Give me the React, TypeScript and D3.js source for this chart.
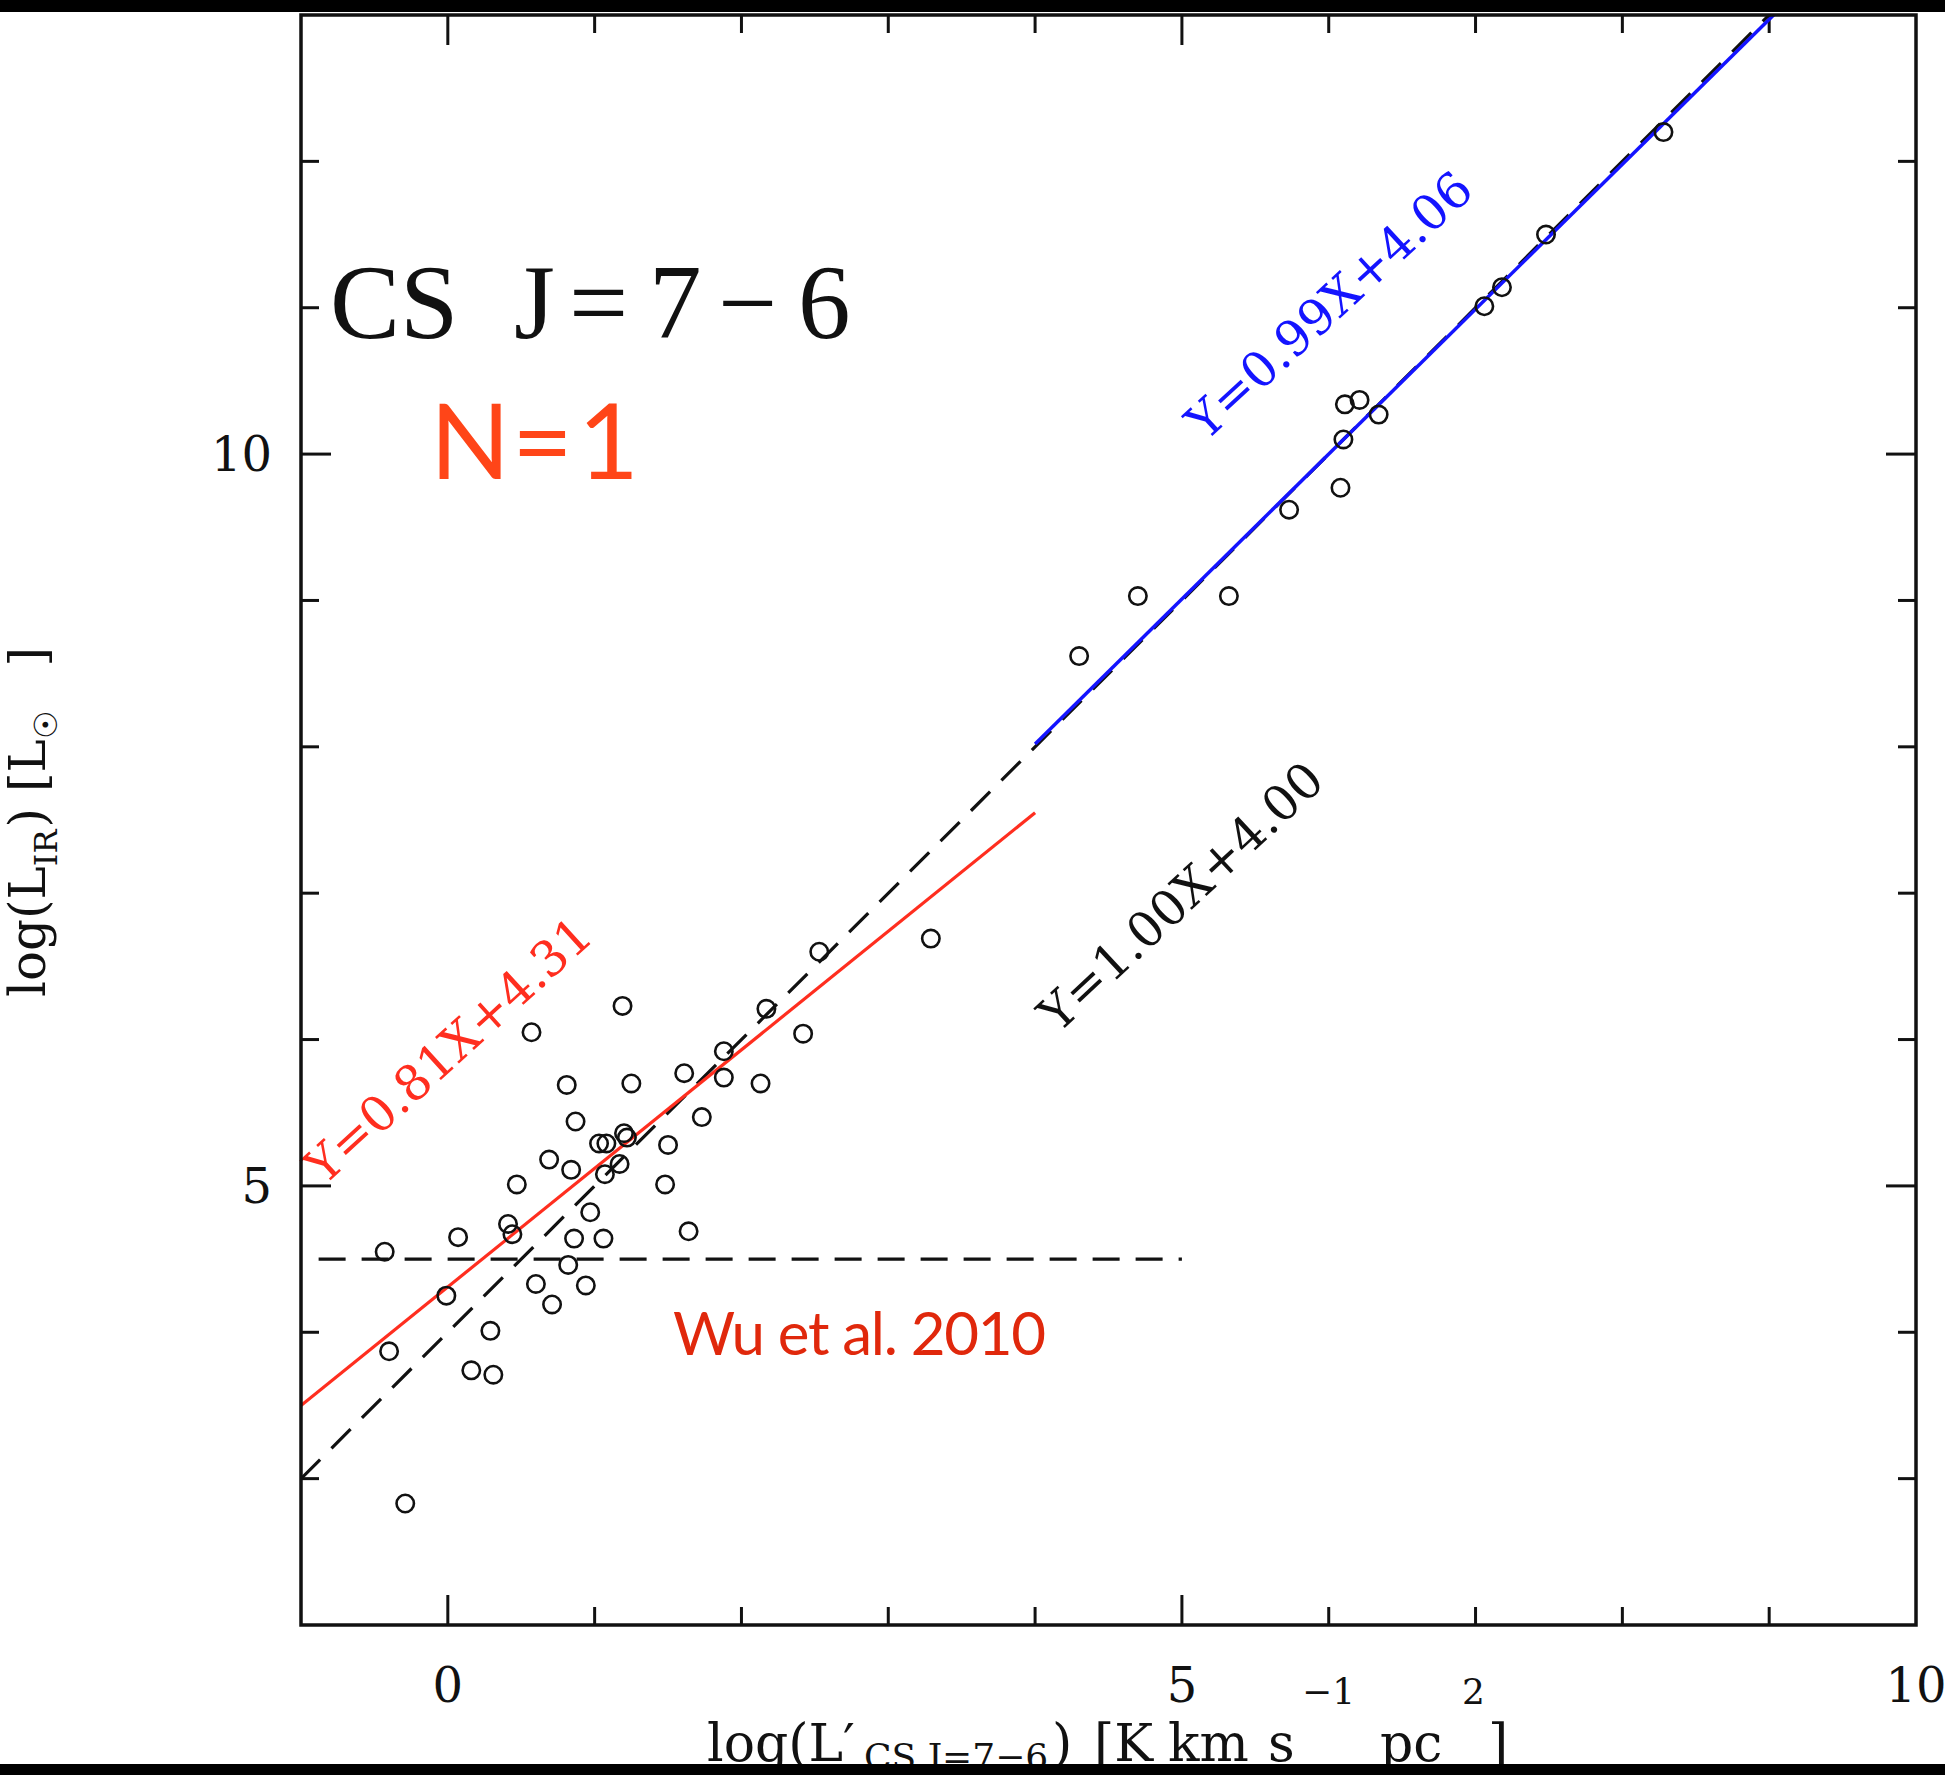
import React, { useEffect, useRef } from 'react';
import * as d3 from 'd3';

const W = 1945;
const H = 1775;

// Galactic dense clumps (Wu et al. 2010): log L'CS(7-6), log LIR
const clumpX = [-0.43, -0.40, -0.29, -0.01, 0.07, 0.16, 0.29, 0.31, 0.41, 0.44, 0.47, 0.57, 0.60, 0.69, 0.71, 0.81, 0.82, 0.84, 0.86, 0.87, 0.94, 0.97, 1.03, 1.08, 1.06, 1.07, 1.17, 1.20, 1.22, 1.19, 1.25, 1.48, 1.50, 1.61, 1.64, 1.73, 1.88, 1.88, 2.13, 2.17, 2.42, 2.53, 3.29];
const clumpY = [4.55, 3.87, 2.83, 4.25, 4.65, 3.74, 4.01, 3.71, 4.74, 4.67, 5.01, 6.05, 4.33, 5.18, 4.19, 5.69, 4.46, 5.11, 4.64, 5.44, 4.32, 4.82, 5.29, 5.29, 4.64, 5.08, 5.15, 5.36, 5.33, 6.23, 5.70, 5.01, 5.28, 5.77, 4.69, 5.47, 5.92, 5.74, 5.70, 6.21, 6.04, 6.60, 6.69];

// galaxies
const galaxyX = [4.30, 4.70, 5.32, 5.73, 6.08, 6.10, 6.11, 6.21, 6.34, 7.06, 7.18, 7.48, 8.28];
const galaxyY = [8.62, 9.03, 9.03, 9.62, 9.77, 10.10, 10.34, 10.37, 10.27, 11.01, 11.14, 11.50, 12.20];

// fits: slope, intercept, x range
const fitNames = ['all', 'clumps', 'galaxies'];
const fitSlopes = [1.00, 0.81, 0.99];
const fitIntercepts = [4.00, 4.31, 4.06];
const fitFrom = [-1, -1, 4];
const fitTo = [9.5, 4, 9.5];
const fitLabels = ['Y=1.00X+4.00', 'Y=0.81X+4.31', 'Y=0.99X+4.06'];

const wuLimit = 4.5; // LIR threshold of Wu et al. 2010
const wuRange = [-0.88, 5.0];

const xTicks = d3.range(0, 10);
const yTicks = d3.range(3, 13);
const xTickLabels = [0, 5, 10];
const yTickLabels = [5, 10];

const SERIF = "'Liberation Serif', serif";
const SERIF_WIDE = "'DejaVu Serif', serif";
const SANS = "Lato, 'Open Sans', sans-serif";

export default function App() {
  const ref = useRef<SVGSVGElement>(null);

  useEffect(() => {
    const svg = d3.select(ref.current);
    svg.selectAll('*').remove();

    const x = d3.scaleLinear().domain([-1, 10]).range([301, 1916]);
    const y = d3.scaleLinear().domain([2, 13]).range([1625, 15]);
    const [x0, x1] = x.range();
    const [y0, y1] = y.range();

    svg.append('rect').attr('width', W).attr('height', H).attr('fill', '#fff');

    svg.append('clipPath').attr('id', 'plot')
      .append('rect').attr('x', x0).attr('y', y1).attr('width', x1 - x0).attr('height', y0 - y1);

    // ticks, all four sides
    const ticks = svg.append('g').attr('stroke', '#111').attr('stroke-width', 3);
    xTicks.forEach(v => {
      const len = v % 5 === 0 ? 30 : 18;
      ticks.append('line').attr('x1', x(v)).attr('x2', x(v)).attr('y1', y0).attr('y2', y0 - len);
      ticks.append('line').attr('x1', x(v)).attr('x2', x(v)).attr('y1', y1).attr('y2', y1 + len);
    });
    yTicks.forEach(v => {
      const len = v % 5 === 0 ? 30 : 18;
      ticks.append('line').attr('y1', y(v)).attr('y2', y(v)).attr('x1', x0).attr('x2', x0 + len);
      ticks.append('line').attr('y1', y(v)).attr('y2', y(v)).attr('x1', x1).attr('x2', x1 - len);
    });

    const lines = svg.append('g').attr('clip-path', 'url(#plot)').attr('fill', 'none');
    const line = d3.line<number>().x(d => x(d[0])).y(d => y(d[1]));

    // 1:1 dashed fit, red fit to clumps, blue fit to galaxies
    const styles = [
      { stroke: '#111', width: 3.2, dash: '27 16' },
      { stroke: '#ff2e1f', width: 3.2, dash: null },
      { stroke: '#1414ff', width: 3.5, dash: null },
    ];
    fitNames.forEach((n, i) => {
      const pts = [fitFrom[i], fitTo[i]].map(v => [v, fitSlopes[i] * v + fitIntercepts[i]]);
      lines.append('path')
        .attr('class', 'fit-' + n)
        .attr('d', line(pts as any))
        .attr('stroke', styles[i].stroke)
        .attr('stroke-width', styles[i].width)
        .attr('stroke-dasharray', styles[i].dash);
    });

    lines.append('line')
      .attr('x1', x(wuRange[0])).attr('x2', x(wuRange[1]))
      .attr('y1', y(wuLimit)).attr('y2', y(wuLimit))
      .attr('stroke', '#111').attr('stroke-width', 3.2).attr('stroke-dasharray', '27 16');

    const pts = svg.append('g').attr('fill', 'none').attr('stroke', '#111').attr('stroke-width', 2.6);
    pts.selectAll('.clump').data(clumpX).enter().append('circle')
      .attr('class', 'clump')
      .attr('cx', d => x(d)).attr('cy', (d, i) => y(clumpY[i])).attr('r', 8.7);
    pts.selectAll('.galaxy').data(galaxyX).enter().append('circle')
      .attr('class', 'galaxy')
      .attr('cx', d => x(d)).attr('cy', (d, i) => y(galaxyY[i])).attr('r', 8.7);

    // fit labels
    const labelPos = [[4.99, 6.98, 43], [0.0, 5.93, 42.3], [6.0, 11.02, 42.6]];
    const labelColors = ['#111', '#ff2e1f', '#1414ff'];
    fitLabels.forEach((t, i) => {
      const [lx, ly, a] = labelPos[i];
      svg.append('text')
        .attr('transform', `translate(${x(lx)},${y(ly)}) rotate(${-a})`)
        .attr('text-anchor', 'middle').attr('dy', '0.36em')
        .attr('font-family', SERIF_WIDE).attr('font-size', 49)
        .attr('fill', labelColors[i])
        .text(t);
    });

    // frame
    svg.append('rect')
      .attr('x', x0).attr('y', y1).attr('width', x1 - x0).attr('height', y0 - y1)
      .attr('fill', 'none').attr('stroke', '#111').attr('stroke-width', 3.5);

    // tick labels
    svg.selectAll('.xlab').data(xTickLabels).enter().append('text')
      .attr('class', 'xlab')
      .attr('x', d => x(d)).attr('y', 1702)
      .attr('text-anchor', 'middle')
      .attr('font-family', SERIF_WIDE).attr('font-size', 48).attr('fill', '#111')
      .text(d => d);
    svg.selectAll('.ylab').data(yTickLabels).enter().append('text')
      .attr('class', 'ylab')
      .attr('x', 272).attr('y', d => y(d)).attr('dy', '0.36em')
      .attr('text-anchor', 'end')
      .attr('font-family', SERIF_WIDE).attr('font-size', 48).attr('fill', '#111')
      .text(d => d);

    // x axis title
    const xt = svg.append('text').attr('font-family', SERIF_WIDE).attr('font-size', 52).attr('fill', '#111');
    const xparts: [string, number, number, number][] = [
      ['log(L\u2032', 707, 1761, 52],
      ['CS J=7\u22126', 864, 1769, 36],
      [')', 1052, 1761, 52],
      ['[K', 1094, 1761, 52],
      ['km', 1168, 1761, 52],
      ['s', 1268, 1761, 52],
      ['\u22121', 1302, 1704, 36],
      ['pc', 1380, 1761, 52],
      ['2', 1462, 1704, 36],
      [']', 1488, 1761, 52],
    ];
    xparts.forEach(([t, px, py, fs]) => xt.append('tspan').attr('x', px).attr('y', py).attr('font-size', fs).text(t));

    // y axis title
    const yt = svg.append('text')
      .attr('transform', 'translate(45,997) rotate(-90)')
      .attr('font-family', SERIF_WIDE).attr('font-size', 50).attr('fill', '#111');
    yt.append('tspan').text('log(L');
    yt.append('tspan').attr('dy', 12).attr('font-size', 32).text('IR');
    yt.append('tspan').attr('dy', -12).attr('dx', 2).text(') [L');
    yt.append('tspan').attr('dy', 12).attr('font-size', 32).text('\u2609');
    yt.append('tspan').attr('dy', -12).attr('dx', 28).text(' ]');

    // title
    const title = svg.append('text').attr('font-family', SERIF).attr('font-size', 105).attr('fill', '#111');
    [['CS', 330], ['J', 514], ['=', 569], ['7', 649], ['\u2212', 718], ['6', 798]].forEach(([t, px]) =>
      title.append('tspan').attr('x', px).attr('y', 338).text(t as string));

    const n = svg.append('text').attr('font-family', SANS).attr('font-size', 105).attr('fill', '#ff4518');
    n.append('tspan').attr('x', 430).attr('y', 479).text('N');
    n.append('tspan').attr('x', 512).attr('y', 479).text('=');
    n.append('tspan').attr('x', 578).attr('y', 479).text('1');

    svg.append('text')
      .attr('x', 673).attr('y', 1355)
      .attr('font-family', SANS).attr('font-size', 60).attr('fill', '#e0280c')
      .attr('textLength', 373).attr('lengthAdjust', 'spacing')
      .text('Wu et al. 2010');

    // black bands of the original screenshot
    svg.append('rect').attr('x', 0).attr('y', 0).attr('width', W).attr('height', 12).attr('fill', '#000');
    svg.append('rect').attr('x', 0).attr('y', 1764).attr('width', W).attr('height', H - 1764).attr('fill', '#000');
  }, []);

  return (
    <div style={{ position: 'absolute', left: 0, top: 0 }}>
      <svg ref={ref} width={W} height={H} style={{ display: 'block' }} />
    </div>
  );
}
